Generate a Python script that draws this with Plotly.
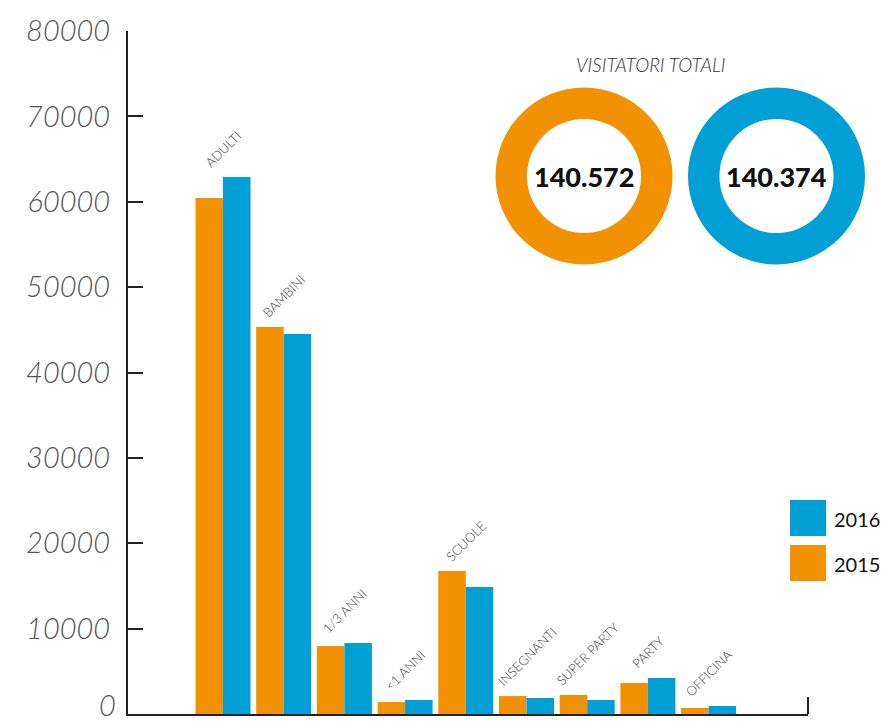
import plotly.graph_objects as go

categories = ["ADULTI", "BAMBINI", "1/3 ANNI", "<1 ANNI", "SCUOLE", "INSEGNANTI", "SUPER PARTY", "PARTY", "OFFICINA"]
v2015 = [60440, 45330, 7960, 1400, 16750, 2100, 2230, 3630, 700]
v2016 = [62900, 44510, 8320, 1640, 14880, 1870, 1640, 4220, 940]
totals = {"2015": "140.572", "2016": "140.374"}
y_ticks = [0, 10000, 20000, 30000, 40000, 50000, 60000, 70000, 80000]

ORANGE = "#F39200"
BLUE = "#009FD6"
W, H = 881, 725
ML, MR, MT, MB = 128, 0, 31, 11
PW, PH = W - ML - MR, H - MT - MB
AXIS_RIGHT = 808
TICKFONT = dict(family="Lato", size=29, color="#555", style="italic", weight=300)


def px(xp):
    return (xp - ML) / PW


def py(yp):
    return (H - MB - yp) / PH


xi = list(range(len(categories)))
fig = go.Figure()
fig.add_trace(go.Bar(x=xi, y=v2015, name="2015", marker=dict(color=ORANGE, line=dict(width=0))))
fig.add_trace(go.Bar(x=xi, y=v2016, name="2016", marker=dict(color=BLUE, line=dict(width=0))))

# donut rings for totals
rings = [("2015", ORANGE, 584, 176), ("2016", BLUE, 776.5, 176)]
R = 88.5
for yr, col, cx, cy in rings:
    fig.add_trace(go.Pie(values=[1], labels=[yr], hole=0.645, sort=False,
                         marker=dict(colors=[col], line=dict(width=0)),
                         textinfo="none", hoverinfo="skip", showlegend=False,
                         domain=dict(x=[px(cx - R), px(cx + R)], y=[py(cy + R), py(cy - R)])))
    fig.add_annotation(xref="paper", yref="paper", x=px(cx), y=py(cy), text=totals[yr],
                       showarrow=False, xanchor="center", yanchor="middle",
                       font=dict(family="Lato", size=27, color="#111", weight=900))

fig.add_annotation(xref="paper", yref="paper", x=px(651), y=py(65), text="VISITATORI TOTALI",
                   showarrow=False, xanchor="center", yanchor="middle",
                   font=dict(family="Lato", size=19, color="#333", style="italic", weight=300))

# category labels
for i, c in enumerate(categories):
    fig.add_annotation(x=i, y=max(v2015[i], v2016[i]), text=c.replace("<", "&lt;"), textangle=-45,
                       showarrow=False, xanchor="center", yanchor="bottom", yshift=4,
                       font=dict(family="Lato", size=13, color="#444", weight=300))

# "0" tick label, kept fully inside the page
fig.add_annotation(xref="paper", yref="y", x=0, y=y_ticks[0], text=str(y_ticks[0]),
                   showarrow=False, xanchor="right", yanchor="bottom", xshift=-10, yshift=-10,
                   font=TICKFONT)

# custom legend
for yr, col, top in [("2016", BLUE, 500), ("2015", ORANGE, 545)]:
    fig.add_shape(type="rect", xref="paper", yref="paper", x0=px(790), x1=px(826),
                  y0=py(top + 36), y1=py(top), fillcolor=col, line=dict(width=0))
    fig.add_annotation(xref="paper", yref="paper", x=px(832), y=py(top + 19), text=yr,
                       showarrow=False, xanchor="left", yanchor="middle",
                       font=dict(family="Lato", size=20, color="#111"))

# right end tick of baseline
fig.add_shape(type="line", xref="x domain", yref="y", x0=1, x1=1, y0=0, y1=17,
              ysizemode="pixel", yanchor=0, line=dict(color="#222", width=2))

step = 60.7
c0 = 223
fig.update_layout(
    width=W, height=H,
    margin=dict(l=ML, r=MR, t=MT, b=MB, pad=0),
    paper_bgcolor="white", plot_bgcolor="white",
    barmode="group", bargap=0.094, bargroupgap=0,
    showlegend=False,
    xaxis=dict(domain=[0, px(AXIS_RIGHT)], range=[(ML - c0) / step, (AXIS_RIGHT - c0) / step],
               showticklabels=False, ticks="", showgrid=False, zeroline=False,
               showline=True, linecolor="#222", linewidth=2, fixedrange=True),
    yaxis=dict(range=[0, 80000], tickvals=y_ticks,
               ticktext=["" if v == 0 else str(v) for v in y_ticks],
               ticks="inside", ticklen=15, tickwidth=2, tickcolor="#222",
               showline=True, linecolor="#222", linewidth=2, showgrid=False, zeroline=False,
               ticklabelstandoff=10, tickfont=TICKFONT),
)
fig.write_html("out.html", config={"displayModeBar": False},
               post_script="document.body.style.margin='0';document.body.style.overflow='hidden';")
